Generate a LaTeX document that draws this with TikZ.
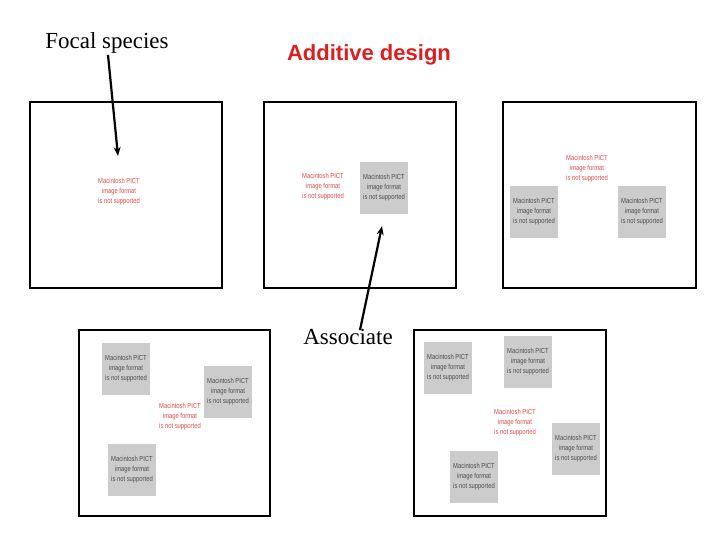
\documentclass[tikz,border=0pt]{standalone}
\usepackage{fontspec}
\setmainfont{Liberation Serif}
\newfontfamily\phfont[FakeStretch=0.8]{Liberation Sans}
\newfontfamily\titfont{Liberation Sans}
\usetikzlibrary{arrows.meta}
\definecolor{phred}{RGB}{225,70,70}
\definecolor{phgrey}{RGB}{204,204,204}
\definecolor{titred}{RGB}{220,30,30}
\tikzset{
  frame/.style={draw=black,line width=2pt},
  ph/.style={align=center,inner sep=0pt,font=\phfont\fontsize{7.3}{10}\selectfont},
  phg/.style={ph,fill=phgrey,minimum width=48pt,minimum height=52pt,text=black!70},
  phr/.style={ph,text=phred},
  arr/.style={line width=2.2pt,-{Stealth[length=9pt,width=7pt]}},
  lbl/.style={font=\fontsize{23}{26}\selectfont,inner sep=1pt}
}
\begin{document}
\begin{tikzpicture}[x=1pt,y=-1pt]
\useasboundingbox (0,0) rectangle (720,540);
\draw[frame] (30,102) rectangle (222,288);
\draw[frame] (264,102) rectangle (456,288);
\draw[frame] (503,102) rectangle (696,288);
\draw[frame] (79,330) rectangle (270,516);
\draw[frame] (414,330) rectangle (606,516);
\node[lbl] (focal) at (107,43) {Focal species};
\node[font=\titfont\bfseries\fontsize{22}{25}\selectfont,text=titred] (title) at (369,55) {Additive design};
\node[lbl] (assoc) at (348,337) {Associate};
\newcommand\phtext{Macintosh PICT\\image format\\is not supported}
\node[phr] (r1) at (119,192) {\phtext};
\node[phr] (r2) at (323,187) {\phtext};
\node[phg] (g2) at (384,188) {\phtext};
\node[phr] (r3) at (587,169) {\phtext};
\node[phg] (g3a) at (534,212) {\phtext};
\node[phg] (g3b) at (642,212) {\phtext};
\node[phg] (g4a) at (126,369) {\phtext};
\node[phg] (g4b) at (228,392) {\phtext};
\node[phr] (r4) at (180,417) {\phtext};
\node[phg] (g4c) at (132,470) {\phtext};
\node[phg] (g5a) at (448,368) {\phtext};
\node[phg] (g5b) at (528,362) {\phtext};
\node[phr] (r5) at (515,423) {\phtext};
\node[phg] (g5c) at (576,449) {\phtext};
\node[phg] (g5d) at (474,477) {\phtext};
\coordinate (fstart) at (108,55);
\coordinate (fend) at (118,156);
\coordinate (astart) at (360,330);
\coordinate (aend) at (382,226);
\draw[arr] (fstart) -- (fend);
\draw[arr] (astart) -- (aend);
\end{tikzpicture}
\end{document}
